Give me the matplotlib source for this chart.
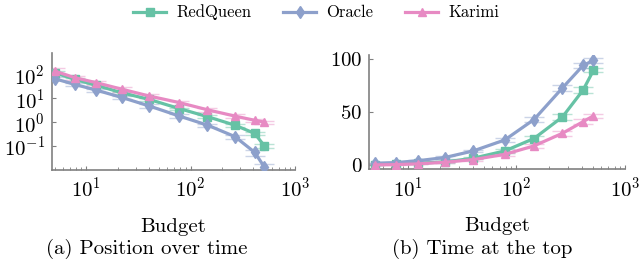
import matplotlib
matplotlib.use("Agg")
import matplotlib.pyplot as plt

plt.rcParams['font.family'] = ['cmr10', 'DejaVu Serif']
plt.rcParams['mathtext.fontset'] = 'cm'
plt.rcParams['axes.formatter.use_mathtext'] = True

# budgets (x axis)
budget = [5, 7.8, 12.5, 22, 40, 78, 145, 265, 410, 510]

# (a) position over time
pos_redqueen = [118, 62, 35, 17, 9, 3.7, 1.7, 0.75, 0.34, 0.1]
pos_oracle = [66, 38, 22, 10.8, 4.8, 1.8, 0.75, 0.25, 0.055, 0.013]
pos_karimi = [138, 73, 45, 24, 12.5, 6.6, 3.3, 1.8, 1.2, 1.0]
pos_err_redqueen = [15, 8, 4, 2, 1, 0.4, 0.2, 0.1, 0.05, 0.02]
pos_err_oracle = [10, 6, 3, 1.5, 0.7, 0.3, 0.12, 0.05, 0.015, 0.004]
pos_err_karimi = [40, 15, 8, 5, 2.5, 1.2, 0.6, 0.3, 0.2, 0.15]

# (b) time at the top
top_redqueen = [0, 1, 1.6, 2.8, 6.3, 13.2, 25, 45.5, 71, 89.6]
top_oracle = [1.6, 2.2, 4, 7, 13.2, 23.6, 43, 73, 94.3, 99]
top_karimi = [0, 0.3, 1.0, 2.5, 5.0, 10, 18, 30, 41, 46.5]
top_err_redqueen = [0.5, 0.5, 0.6, 0.8, 1.0, 1.5, 2, 2.5, 2.5, 2]
top_err_oracle = [0.5, 0.6, 0.8, 1.0, 1.2, 1.8, 2.5, 3, 2.5, 2]
top_err_karimi = [0.5, 0.5, 0.6, 0.8, 1.0, 1.5, 2, 2.5, 2.5, 2]

GREEN = '#66c2a5'
BLUE = '#8da0cb'
PINK = '#e78ac3'
GRAY = '#808080'

fig = plt.figure(figsize=(6.4, 2.59), dpi=100)
ax1 = fig.add_axes([0.081, 0.344, 0.380, 0.452])
ax2 = fig.add_axes([0.577, 0.347, 0.400, 0.440])


def draw(ax, y, err, color, marker, label, ms):
    ax.errorbar(budget, y, yerr=err, color=color, ecolor=color, elinewidth=1,
                capsize=7, capthick=1, alpha=0.45, fmt='none', zorder=2)
    line, = ax.plot(budget, y, color=color, marker=marker, markersize=ms,
                    linewidth=2.3, label=label, zorder=3)
    return line


l1 = draw(ax1, pos_redqueen, pos_err_redqueen, GREEN, 's', 'RedQueen', 6)
l2 = draw(ax1, pos_oracle, pos_err_oracle, BLUE, 'd', 'Oracle', 6)
l3 = draw(ax1, pos_karimi, pos_err_karimi, PINK, '^', 'Karimi', 6)
ax1.set_xscale('log')
ax1.set_yscale('log')
ax1.set_xlim(4.7, 1000)
ax1.set_ylim(0.01, 800)
ax1.set_yticks([0.1, 1, 10, 100])

draw(ax2, top_redqueen, top_err_redqueen, GREEN, 's', 'RedQueen', 6)
draw(ax2, top_oracle, top_err_oracle, BLUE, 'd', 'Oracle', 6)
draw(ax2, top_karimi, top_err_karimi, PINK, '^', 'Karimi', 6)
ax2.set_xscale('log')
ax2.set_xlim(4.45, 1000)
ax2.set_ylim(-4, 104)
ax2.set_yticks([0, 50, 100])

for ax in (ax1, ax2):
    for s in ('top', 'right'):
        ax.spines[s].set_visible(False)
    for s in ('left', 'bottom'):
        ax.spines[s].set_color(GRAY)
        ax.spines[s].set_linewidth(1.2)
    ax.tick_params(which='both', direction='in', color=GRAY, labelsize=15, pad=5)
    ax.tick_params(which='major', length=3)
    ax.tick_params(which='minor', length=2)
    ax.set_xticks([10, 100, 1000])
    ax.set_xlabel('Budget', fontsize=15, labelpad=12)

fig.text(0.23, 0.038, '(a) Position over time', fontsize=15, ha='center', va='center')
fig.text(0.753, 0.038, '(b) Time at the top', fontsize=15, ha='center', va='center')

fig.legend([l1, l2, l3], ['RedQueen', 'Oracle', 'Karimi'], loc='upper center',
           bbox_to_anchor=(0.494, 1.04), ncol=3, frameon=False, fontsize=12,
           handlelength=2.0, handletextpad=0.6, columnspacing=1.9)

fig.savefig('out.png', dpi=100)
